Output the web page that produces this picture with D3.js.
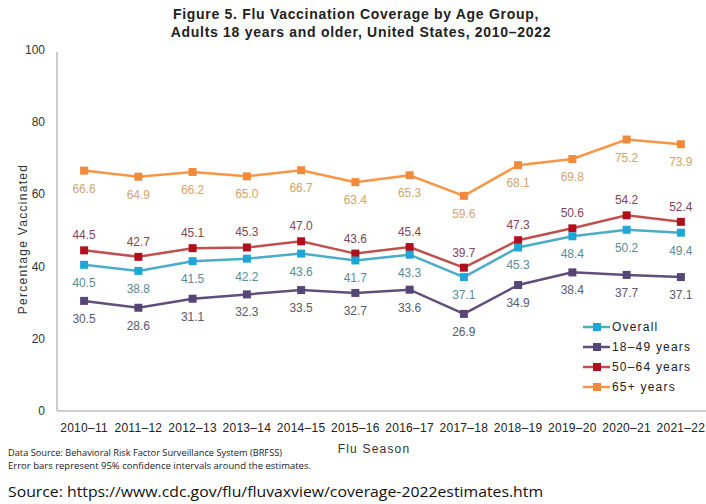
<!DOCTYPE html>
<html><head><meta charset="utf-8">
<script src="https://cdn.jsdelivr.net/npm/d3@7"></script>
<style>body{margin:0;background:#fff}svg{display:block}</style>
</head><body>
<script>
const seasons = ["2010–11","2011–12","2012–13","2013–14","2014–15","2015–16","2016–17","2017–18","2018–19","2019–20","2020–21","2021–22"];
const overall = [40.5,38.8,41.5,42.2,43.6,41.7,43.3,37.1,45.3,48.4,50.2,49.4];
const age18_49 = [30.5,28.6,31.1,32.3,33.5,32.7,33.6,26.9,34.9,38.4,37.7,37.1];
const age50_64 = [44.5,42.7,45.1,45.3,47.0,43.6,45.4,39.7,47.3,50.6,54.2,52.4];
const age65 = [66.6,64.9,66.2,65.0,66.7,63.4,65.3,59.6,68.1,69.8,75.2,73.9];
const yTicks = [0,20,40,60,80,100];
const seriesNames = ["Overall","18–49 years","50–64 years","65+ years"];

const W=706,H=504;
const svg=d3.select("body").append("svg").attr("width",W).attr("height",H);
const font="'Liberation Sans', Arial, sans-serif";
const font2="'Open Sans', 'Liberation Sans', sans-serif";
const x=d3.scalePoint().domain(seasons).range([57,708]).padding(0.5);
const y=d3.scaleLinear().domain([0,100]).range([411,50]);

const series=[
 {name:seriesNames[3],vals:age65,line:"#f79646",mark:"#f08a3c",lab:"#d2a46e",dy:18},
 {name:seriesNames[2],vals:age50_64,line:"#c0504d",mark:"#b0101e",lab:"#84465a",dy:-15},
 {name:seriesNames[0],vals:overall,line:"#4bacc6",mark:"#1ea6d6",lab:"#5a8c96",dy:18},
 {name:seriesNames[1],vals:age18_49,line:"#5f4f7a",mark:"#564676",lab:"#5a5a6c",dy:18},
];

// title
const t=svg.append("text").attr("font-family",font).attr("font-weight","bold").attr("font-size",14).attr("fill","#222").attr("text-anchor","middle").attr("letter-spacing",0.7);
t.append("tspan").attr("x",356).attr("y",19).text("Figure 5. Flu Vaccination Coverage by Age Group,");
t.append("tspan").attr("x",361).attr("y",37).text("Adults 18 years and older, United States, 2010–2022");

// axes
svg.append("line").attr("x1",57).attr("x2",57).attr("y1",y(100)+2).attr("y2",y(0)).attr("stroke","#bdbdbd").attr("stroke-width",1.5);
svg.append("line").attr("x1",57).attr("x2",706).attr("y1",y(0)).attr("y2",y(0)).attr("stroke","#bdbdbd").attr("stroke-width",1.5);
svg.append("g").selectAll("text").data(yTicks).join("text")
 .attr("x",45).attr("y",d=>y(d)+4).attr("text-anchor","end").attr("font-family",font).attr("font-size",12).attr("fill","#333").text(d=>d);
svg.append("g").selectAll("text").data(seasons).join("text")
 .attr("x",d=>x(d)).attr("y",432).attr("text-anchor","middle").attr("font-family",font).attr("font-size",12).attr("letter-spacing",0.3).attr("fill","#222").text(d=>d);
svg.append("text").attr("x",374).attr("y",453).attr("text-anchor","middle").attr("font-family",font).attr("font-size",12).attr("letter-spacing",1.2).attr("fill","#333").text("Flu Season");
svg.append("text").attr("transform","translate(27,239) rotate(-90)").attr("text-anchor","middle").attr("font-family",font).attr("font-size",12).attr("letter-spacing",1.3).attr("fill","#333").text("Percentage Vaccinated");

// series
const line=d3.line().x((d,i)=>x(seasons[i])).y(d=>y(d));
series.forEach(s=>{
  const g=svg.append("g");
  g.append("path").attr("d",line(s.vals)).attr("fill","none").attr("stroke",s.line).attr("stroke-width",2.5);
  g.selectAll("rect").data(s.vals).join("rect").attr("x",(d,i)=>x(seasons[i])-4).attr("y",d=>y(d)-4).attr("width",8).attr("height",8).attr("fill",s.mark);
  g.selectAll("text").data(s.vals).join("text").attr("x",(d,i)=>x(seasons[i])).attr("y",d=>y(d)+s.dy+4)
   .attr("text-anchor","middle").attr("font-family",font).attr("font-size",12).attr("fill",s.lab).text(d=>d.toFixed(1));
});

// legend
const legOrder=[series[2],series[3],series[1],series[0]];
const lg=svg.append("g");
legOrder.forEach((s,i)=>{
  const yy=327+i*20;
  lg.append("line").attr("x1",583).attr("x2",610).attr("y1",yy).attr("y2",yy).attr("stroke",s.line).attr("stroke-width",2.5);
  lg.append("rect").attr("x",593).attr("y",yy-4).attr("width",8).attr("height",8).attr("fill",s.mark);
  lg.append("text").attr("x",612).attr("y",yy+4).attr("font-family",font).attr("font-size",12).attr("letter-spacing",1.2).attr("fill","#222").text(s.name);
});

// notes
svg.append("text").attr("x",8).attr("y",456).attr("font-family",font2).attr("font-size",9).attr("fill","#222").attr("textLength",274).attr("lengthAdjust","spacingAndGlyphs").text("Data Source: Behavioral Risk Factor Surveillance System (BRFSS)");
svg.append("text").attr("x",8).attr("y",469).attr("font-family",font2).attr("font-size",9).attr("fill","#222").attr("textLength",303).attr("lengthAdjust","spacingAndGlyphs").text("Error bars represent 95% confidence  intervals  around  the  estimates.");
svg.append("text").attr("x",8).attr("y",497).attr("font-family",font2).attr("font-size",14.5).attr("fill","#111").attr("textLength",535).attr("lengthAdjust","spacingAndGlyphs").text("Source: https://www.cdc.gov/flu/fluvaxview/coverage-2022estimates.htm");
</script>
</body></html>
